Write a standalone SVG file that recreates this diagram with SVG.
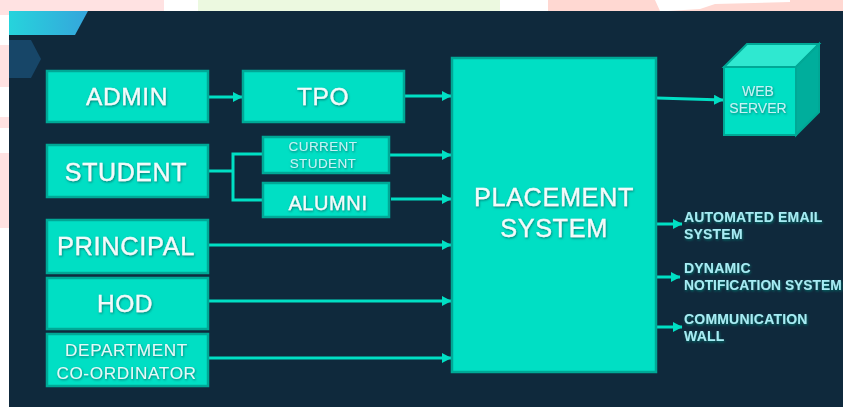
<svg xmlns="http://www.w3.org/2000/svg" width="843" height="407" viewBox="0 0 843 407">
<defs>
<linearGradient id="g" x1="0" y1="0" x2="1" y2="0"><stop offset="0" stop-color="#26d4dc"/><stop offset="1" stop-color="#35a5dc"/></linearGradient>
<filter id="sh" x="-10%" y="-20%" width="120%" height="150%"><feDropShadow dx="0.7" dy="1.2" stdDeviation="0.8" flood-color="#04786f" flood-opacity="0.9"/></filter>
<marker id="ah" markerUnits="userSpaceOnUse" markerWidth="10" markerHeight="10" refX="9" refY="5" orient="auto"><path d="M0,0 L9.5,5 L0,10Z" fill="#00dfc4"/></marker>
</defs>
<style>
.b{fill:#00dfc4;stroke:#00a896;stroke-width:2.5}
.c{fill:none;stroke:#00dfc4;stroke-width:3}
.t{font-family:"Liberation Sans",Arial,sans-serif;text-anchor:middle;fill:#f2fbfb;stroke:#f2fbfb;stroke-width:.3;filter:url(#sh);letter-spacing:.6px}
.d{font-family:"Liberation Sans",Arial,sans-serif;text-anchor:middle;font-size:17.2px;fill:#e4f9f8;filter:url(#sh);letter-spacing:.6px}
.s{font-family:"Liberation Sans",Arial,sans-serif;font-weight:bold;font-size:14px;letter-spacing:.2px;fill:#a6ecf4;filter:url(#sh)}
.w{font-family:"Liberation Sans",Arial,sans-serif;text-anchor:middle;font-size:14px;fill:#c4f3f6;filter:url(#sh)}
</style>
<rect width="843" height="407" fill="#fff"/>
<g id="background">
<rect x="0" y="0" width="164" height="11" fill="#ffe2e2"/>
<rect x="0" y="11" width="9" height="4" fill="#ffe2e2"/>
<rect x="198" y="0" width="302" height="11" fill="#ecf9e0"/>
<rect x="548" y="0" width="295" height="11" fill="#ffd8d2"/>
<path d="M655,0 L790,0 L790,2 L715,4 L700,9 L668,11 L660,11Z" fill="#fff"/>
<rect x="0" y="45" width="9" height="42" fill="#ffe2e2"/>
<rect x="0" y="117" width="9" height="11" fill="#ffe2e2"/>
<rect x="0" y="153" width="9" height="75" fill="#ffe2e2"/>
<rect x="9" y="11" width="834" height="396" fill="#0f293c"/>
<path d="M9,11 H88 L75,35 H9Z" fill="url(#g)"/>
<path d="M9,40 H31 L41,59 L31,78 H9Z" fill="#174668"/>
</g>
<g id="connectors">
<path class="c" marker-end="url(#ah)" d="M208,97 H242"/>
<path class="c" marker-end="url(#ah)" d="M405,96 H451"/>
<path class="c" marker-end="url(#ah)" d="M389,155 H451"/>
<path class="c" marker-end="url(#ah)" d="M391,199 H451"/>
<path class="c" d="M208,171 H233 M262,154 H233 V200 H262"/>
<path class="c" marker-end="url(#ah)" d="M208,245 H451"/>
<path class="c" marker-end="url(#ah)" d="M208,301 H451"/>
<path class="c" marker-end="url(#ah)" d="M208,358 H451"/>
<path class="c" marker-end="url(#ah)" d="M657,98 L723,100"/>
<path class="c" marker-end="url(#ah)" d="M657,224 H682"/>
<path class="c" marker-end="url(#ah)" d="M657,277 H680"/>
<path class="c" marker-end="url(#ah)" d="M657,327 H682"/>
</g>
<g id="admin"><rect class="b" x="47" y="71" width="161" height="51"/><text class="t" x="127" y="105" font-size="24.5">ADMIN</text></g>
<g id="tpo"><rect class="b" x="243" y="71" width="161" height="51"/><text class="t" x="323" y="105" font-size="24.5">TPO</text></g>
<g id="student"><rect class="b" x="47" y="145" width="161" height="52"/><text class="t" x="126" y="181" font-size="25">STUDENT</text></g>
<g id="current-student"><rect class="b" x="263" y="137" width="126" height="36"/><text class="w" x="323" y="151" style="font-size:13.5px;letter-spacing:.4px">CURRENT</text><text class="w" x="323" y="168" style="font-size:13.5px;letter-spacing:.4px">STUDENT</text></g>
<g id="alumni"><rect class="b" x="263" y="183" width="126" height="34"/><text class="t" x="328" y="210" font-size="20">ALUMNI</text></g>
<g id="principal"><rect class="b" x="47" y="220" width="161" height="53"/><text class="t" x="126" y="255" font-size="25.5">PRINCIPAL</text></g>
<g id="hod"><rect class="b" x="47" y="278" width="161" height="51"/><text class="t" x="125" y="312" font-size="24.5">HOD</text></g>
<g id="department-coordinator"><rect class="b" x="47" y="334" width="161" height="52"/><text class="d" x="126.500" y="356">DEPARTMENT</text><text class="d" x="126.500" y="379">CO-ORDINATOR</text></g>
<g id="placement-system"><rect class="b" x="452" y="58" width="204" height="314"/><text class="t" x="554" y="206" font-size="25.300">PLACEMENT</text><text class="t" x="554" y="237" font-size="25.300">SYSTEM</text></g>
<g id="web-server">
<path d="M724,67 L747,44 H819 L796,67Z" fill="#2fe8d0" stroke="#00a896" stroke-width="2"/>
<path d="M796,67 L819,44 V112 L796,135Z" fill="#00ae9c" stroke="#00a896" stroke-width="2"/>
<rect x="724" y="67" width="72" height="68" fill="#00dfc4" stroke="#00a896" stroke-width="2"/>
<text class="w" x="758" y="96">WEB</text>
<text class="w" x="758" y="113">SERVER</text>
</g>
<g id="automated-email"><text class="s" x="684" y="222">AUTOMATED EMAIL</text><text class="s" x="684" y="239">SYSTEM</text></g>
<g id="dynamic-notification"><text class="s" x="684" y="273">DYNAMIC</text><text class="s" x="684" y="290" style="font-size:13.8px;letter-spacing:0">NOTIFICATION SYSTEM</text></g>
<g id="communication-wall"><text class="s" x="684" y="324">COMMUNICATION</text><text class="s" x="684" y="341">WALL</text></g>
</svg>
